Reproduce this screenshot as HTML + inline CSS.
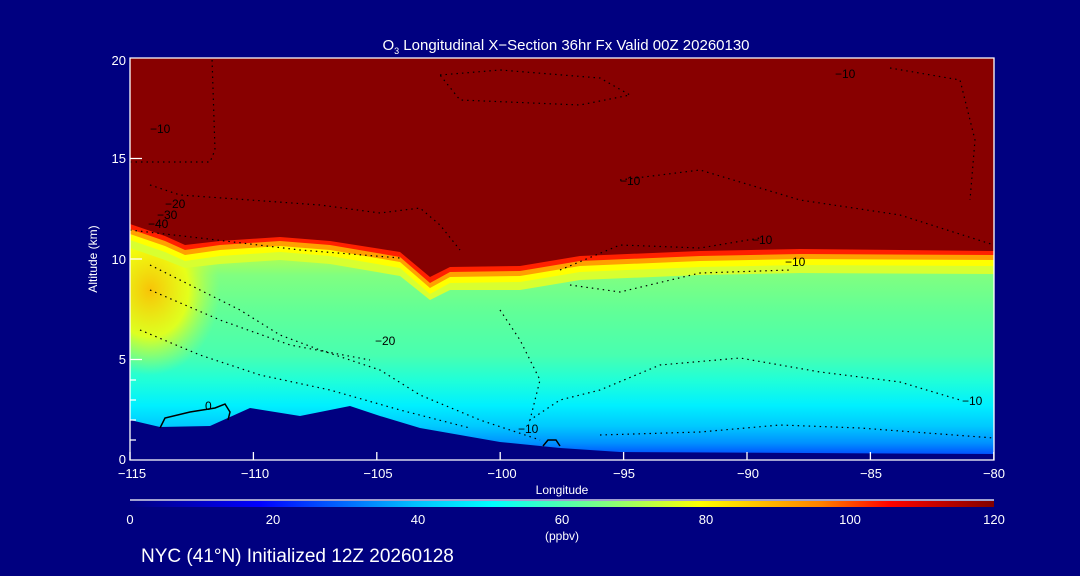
<!DOCTYPE html>
<html><head><meta charset="utf-8"><style>
html,body{margin:0;padding:0;background:#000080;}
svg{display:block;font-family:"Liberation Sans",sans-serif;}
</style></head><body>
<svg width="1080" height="576" viewBox="0 0 1080 576" xmlns="http://www.w3.org/2000/svg">
<defs>
<linearGradient id="body" x1="0" y1="250" x2="0" y2="460" gradientUnits="userSpaceOnUse">
<stop offset="0" stop-color="#c0ff40"/>
<stop offset="0.12" stop-color="#80ff80"/>
<stop offset="0.3" stop-color="#60ff98"/>
<stop offset="0.5" stop-color="#48ffb0"/>
<stop offset="0.62" stop-color="#20ffd8"/>
<stop offset="0.74" stop-color="#00f0ff"/>
<stop offset="0.84" stop-color="#00c8ff"/>
<stop offset="0.92" stop-color="#0090ff"/>
<stop offset="1" stop-color="#0030ff"/>
</linearGradient>
<linearGradient id="cb" x1="0" y1="0" x2="1" y2="0">
<stop offset="0" stop-color="#000080"/>
<stop offset="0.15" stop-color="#0000ff"/>
<stop offset="0.33" stop-color="#00c0ff"/>
<stop offset="0.42" stop-color="#00ffff"/>
<stop offset="0.55" stop-color="#80ff80"/>
<stop offset="0.66" stop-color="#ffff00"/>
<stop offset="0.8" stop-color="#ff8000"/>
<stop offset="0.88" stop-color="#ff0000"/>
<stop offset="1" stop-color="#800000"/>
</linearGradient>
<radialGradient id="yel" cx="0.5" cy="0.5" r="0.5">
<stop offset="0" stop-color="#ffc000" stop-opacity="0.95"/>
<stop offset="0.55" stop-color="#ffff00" stop-opacity="0.8"/>
<stop offset="1" stop-color="#c0ff40" stop-opacity="0"/>
</radialGradient>
<clipPath id="pc"><rect x="130" y="58" width="864" height="402"/></clipPath>
</defs>
<g clip-path="url(#pc)">
<rect x="130" y="58" width="864" height="402" fill="url(#body)"/>
<ellipse cx="150" cy="290" rx="70" ry="85" fill="url(#yel)"/>
<g>
<path d="M130,248 L165,260 L185,268 L220,264 L280,260 L330,264 L400,276 L430,300 L450,290 L520,290 L580,280 L700,275 L800,273 L994,274 L994,58 L130,58Z" fill="#d8ff30"/>
<path d="M130,240 L165,252 L185,261 L220,256 L280,252 L330,256 L400,268 L430,294 L450,283 L520,282 L580,272 L700,267 L800,265 L994,266 L994,58 L130,58Z" fill="#ffff00"/>
<path d="M130,234 L165,246 L185,255 L220,250 L280,246 L330,250 L400,262 L430,288 L450,277 L520,276 L580,266 L700,261 L800,259 L994,260 L994,58 L130,58Z" fill="#ffa000"/>
<path d="M130,229 L165,241 L185,250 L220,245 L280,241 L330,245 L400,257 L430,283 L450,272 L520,271 L580,261 L700,256 L800,254 L994,255 L994,58 L130,58Z" fill="#ff2000"/>
<path d="M130,224 L165,236 L185,245 L220,241 L280,237 L330,241 L400,252 L430,277 L450,267 L520,266 L580,256 L700,251 L800,249 L994,251 L994,58 L130,58Z" fill="#880000"/>
</g>
<path d="M130,420 L160,427 L210,426 L250,408 L300,416 L350,406 L380,416 L420,428 L500,442 L560,448 L620,452 L994,454 L994,460 L130,460Z" fill="#000080"/>
<g fill="none" stroke="#000" stroke-width="1.2" stroke-dasharray="1.5,4">
<path d="M130,162 L210,162 L215,150 L212,58"/>
<path d="M150,185 L180,195 L250,200 L320,205 L380,213 L420,208 L440,225 L460,250"/>
<path d="M130,230 L200,238 L300,250 L400,258"/>
<path d="M150,265 L200,290 L240,310 L280,335 L320,350 L380,370 L420,395 L480,420 L540,440"/>
<path d="M150,290 L220,320 L290,345 L370,360"/>
<path d="M140,330 L200,355 L260,375 L330,390 L400,410 L470,428"/>
<path d="M560,270 L620,245 L700,248 L760,238"/>
<path d="M570,285 L620,292 L700,273 L790,270"/>
<path d="M500,310 L520,340 L540,380 L530,420 L560,400 L600,390 L660,365 L740,358 L820,372 L900,382 L960,400"/>
<path d="M600,435 L700,432 L780,425 L860,428 L994,438"/>
<path d="M440,75 L500,70 L600,78 L630,95 L580,105 L460,100Z"/>
<path d="M890,68 L960,80 L975,140 L970,200"/>
<path d="M620,180 L700,170 L800,200 L900,215 L994,245"/>
</g>
<path d="M160,428 L165,418 L190,412 L215,408 L225,404 L230,412 L228,420" fill="none" stroke="#000" stroke-width="1.5"/>
<path d="M543,446 L548,440 L556,440 L560,446" fill="none" stroke="#000" stroke-width="1.5"/>
<g font-size="12" fill="#000">
<text x="150" y="133">−10</text><text x="165" y="208">−20</text><text x="157" y="219">−30</text><text x="148" y="228">−40</text>
<text x="620" y="185">−10</text><text x="752" y="244">−10</text><text x="785" y="266">−10</text><text x="835" y="78">−10</text>
<text x="375" y="345">−20</text><text x="518" y="433">−10</text><text x="962" y="405">−10</text><text x="205" y="410">0</text>
</g>
</g>
<g stroke="#fff" stroke-width="1.3" fill="none">
<path d="M130,58 L994,58 L994,460 L130,460 Z"/>
<path d="M130,460v-8M253.4,460v-8M376.8,460v-8M500.2,460v-8M623.6,460v-8M747,460v-8M870.4,460v-8M993.8,460v-8"/>
<path d="M130,359.5h12M130,259h12M130,158.5h12M130,440h6M130,420h6M130,400h6M130,380h6"/>
</g>
<g fill="#fff" font-size="13">
<g text-anchor="middle">
<text x="132" y="478">−115</text><text x="255" y="478">−110</text><text x="378" y="478">−105</text><text x="502" y="478">−100</text><text x="624" y="478">−95</text><text x="748" y="478">−90</text><text x="871" y="478">−85</text><text x="994" y="478">−80</text>
<text x="562" y="494" font-size="12">Longitude</text>
</g>
<g text-anchor="end">
<text x="126" y="464">0</text><text x="126" y="364">5</text><text x="126" y="264">10</text><text x="126" y="163">15</text><text x="126" y="65">20</text>
</g>
<text x="97" y="259" font-size="12" text-anchor="middle" transform="rotate(-90 97 259)">Altitude (km)</text>
<text x="566" y="50" font-size="15" text-anchor="middle">O<tspan font-size="9" dy="4">3</tspan><tspan dy="-4"> Longitudinal X−Section 36hr  Fx Valid 00Z 20260130</tspan></text>
</g>
<line x1="130" y1="500" x2="994" y2="500" stroke="#fff" stroke-width="1.3"/>
<rect x="130" y="501" width="864" height="6" fill="url(#cb)"/>
<g fill="#fff" font-size="13" text-anchor="middle">
<text x="130" y="524">0</text><text x="273" y="524">20</text><text x="418" y="524">40</text><text x="562" y="524">60</text><text x="706" y="524">80</text><text x="850" y="524">100</text><text x="994" y="524">120</text>
<text x="562" y="540" font-size="12">(ppbv)</text>
</g>
<text x="141" y="562" fill="#fff" font-size="19">NYC (41°N) Initialized 12Z 20260128</text>
</svg>
</body></html>
